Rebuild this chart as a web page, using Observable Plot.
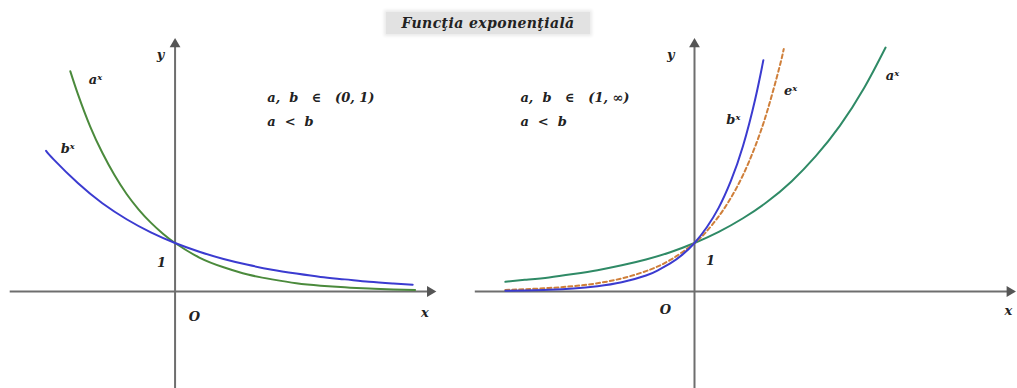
<!DOCTYPE html>
<html>
<head>
<meta charset="utf-8">
<script src="https://cdn.jsdelivr.net/npm/d3@7"></script>
<script src="https://cdn.jsdelivr.net/npm/@observablehq/plot@0.6"></script>
<style>
  html, body { margin: 0; padding: 0; background: #ffffff; }
  #stage { position: relative; width: 1017px; height: 388px; overflow: hidden; }
  .panel { position: absolute; top: 0; }
  #title {
    position: absolute; left: 386px; top: 12px; width: 204px; height: 22px;
    background: #e2e2e2; box-shadow: 0 0 3px 2px #ebebeb;
    font: italic bold 14px "DejaVu Serif", serif; letter-spacing: 0.4px; color: #222;
    display: flex; align-items: center; justify-content: center;
  }
</style>
</head>
<body>
<div id="stage">
  <div id="left" class="panel" style="left:0px"></div>
  <div id="right" class="panel" style="left:460px"></div>
  <div id="title">Funcţia exponenţială</div>
</div>
<script>
// Left panel: bases between 0 and 1 (a < b)
const leftAX = [-2.16, -2, -1.75, -1.5, -1.25, -1, -0.75, -0.5, -0.25, 0, 0.5, 1, 1.5, 2, 2.5, 3, 3.5, 4, 4.5, 4.95];
const leftAY = [4.54, 4.06, 3.40, 2.86, 2.40, 2.01, 1.69, 1.42, 1.19, 1, 0.70, 0.50, 0.35, 0.25, 0.17, 0.12, 0.086, 0.061, 0.043, 0.031];
const leftBX = [-2.66, -2.5, -2, -1.5, -1, -0.5, 0, 0.5, 1, 1.5, 2, 2.5, 3, 3.5, 4, 4.5, 4.9];
const leftBY = [2.90, 2.72, 2.23, 1.82, 1.49, 1.22, 1, 0.82, 0.67, 0.55, 0.45, 0.37, 0.30, 0.25, 0.20, 0.165, 0.14];

// Right panel: bases greater than 1 (a < b), with e^x for comparison
const rightAX = [-3.9, -3.5, -3, -2.5, -2, -1.5, -1, -0.5, 0, 0.5, 1, 1.5, 2, 2.5, 3, 3.5, 3.94];
const rightAY = [0.20, 0.24, 0.29, 0.36, 0.44, 0.54, 0.66, 0.81, 1, 1.23, 1.51, 1.85, 2.27, 2.79, 3.42, 4.20, 5.03];
const rightBX = [-3.9, -3.5, -3, -2.5, -2, -1.5, -1, -0.75, -0.5, -0.25, 0, 0.25, 0.5, 0.75, 1, 1.25, 1.42];
const rightBY = [0.014, 0.021, 0.037, 0.064, 0.11, 0.19, 0.33, 0.44, 0.58, 0.76, 1, 1.32, 1.73, 2.28, 3.00, 3.96, 4.77];
const rightEX = [-3.9, -3.5, -3, -2.5, -2, -1.5, -1, -0.5, 0, 0.25, 0.5, 0.75, 1, 1.25, 1.5, 1.75, 1.84];
const rightEY = [0.033, 0.047, 0.072, 0.11, 0.17, 0.27, 0.42, 0.65, 1, 1.24, 1.55, 1.93, 2.40, 2.99, 3.72, 4.62, 5.00];

// Text labels
const leftConditions = ["a,  b   ∈   (0, 1)", "a  <  b"];
const rightConditions = ["a,  b   ∈   (1, ∞)", "a  <  b"];
const curveLabels = { a: "aˣ", b: "bˣ", e: "eˣ" };

const pts = (xs, ys) => xs.map((x, i) => ({x, y: ys[i]}));

const FONT = "DejaVu Serif, serif";
const AXIS = "#6e6e6e";
const GREEN_L = "#4b8a3c";
const GREEN_R = "#2f8a66";
const BLUE = "#3b3bd0";
const ORANGE = "#cf7f3a";
const textOpts = {fontFamily: FONT, fontStyle: "italic", fontWeight: "bold", fontSize: 13, fill: "#222"};

function axesMarks(xMin, xMax, yMin, yMax) {
  return [
    Plot.ruleY([0], {x1: xMin, x2: xMax, stroke: AXIS, strokeWidth: 2}),
    Plot.ruleX([0], {y1: yMin, y2: yMax, stroke: AXIS, strokeWidth: 2}),
    Plot.dot([{x: xMax, y: 0}], {x: "x", y: "y", symbol: "triangle", r: 4, fill: "#555", stroke: "none", rotate: 90}),
    Plot.dot([{x: 0, y: yMax}], {x: "x", y: "y", symbol: "triangle", r: 4, fill: "#555", stroke: "none"})
  ];
}

// Left: 0 < a < b < 1
const left = Plot.plot({
  width: 450, height: 388, margin: 0,
  x: {domain: [-3.6, 5.68], axis: null},
  y: {domain: [-2, 6], axis: null},
  marks: [
    ...axesMarks(-3.4, 5.26, -2, 5.1),
    Plot.line(pts(leftAX, leftAY), {x: "x", y: "y", stroke: GREEN_L, strokeWidth: 2, curve: "natural"}),
    Plot.line(pts(leftBX, leftBY), {x: "x", y: "y", stroke: BLUE, strokeWidth: 2, curve: "natural"}),
    Plot.text([curveLabels.a], {x: leftAX[0] + 0.38, y: leftAY[0] - 0.17, text: d => d, textAnchor: "start", ...textOpts}),
    Plot.text([curveLabels.b], {x: leftBX[0] + 0.3, y: leftBY[0] + 0.05, text: d => d, textAnchor: "start", ...textOpts}),
    Plot.text(leftConditions, {x: 1.9, y: (d, i) => 4.0 - i * 0.5, text: d => d, textAnchor: "start", ...textOpts}),
    Plot.text(["y"], {x: -0.3, y: 4.87, text: d => d, ...textOpts}),
    Plot.text(["1"], {x: -0.28, y: 0.6, text: d => d, ...textOpts}),
    Plot.text(["O"], {x: 0.4, y: -0.52, text: d => d, ...textOpts}),
    Plot.text(["x"], {x: 5.15, y: -0.43, text: d => d, ...textOpts})
  ]
});

// Right: 1 < a < b, with e^x dashed
const right = Plot.plot({
  width: 557, height: 388, margin: 0,
  x: {domain: [-4.825, 6.66], axis: null},
  y: {domain: [-2, 6], axis: null},
  marks: [
    ...axesMarks(-4.52, 6.5, -2, 5.1),
    Plot.line(pts(rightAX, rightAY), {x: "x", y: "y", stroke: GREEN_R, strokeWidth: 2, curve: "natural"}),
    Plot.line(pts(rightEX, rightEY), {x: "x", y: "y", stroke: ORANGE, strokeWidth: 2, strokeDasharray: "4,3", curve: "natural"}),
    Plot.line(pts(rightBX, rightBY), {x: "x", y: "y", stroke: BLUE, strokeWidth: 2, curve: "natural"}),
    Plot.text([curveLabels.b], {x: 0.8, y: 3.53, text: d => d, ...textOpts}),
    Plot.text([curveLabels.e], {x: 1.98, y: 4.14, text: d => d, ...textOpts}),
    Plot.text([curveLabels.a], {x: 4.08, y: 4.45, text: d => d, ...textOpts}),
    Plot.text(rightConditions, {x: -3.59, y: (d, i) => 4.0 - i * 0.5, text: d => d, textAnchor: "start", ...textOpts}),
    Plot.text(["y"], {x: -0.49, y: 4.87, text: d => d, ...textOpts}),
    Plot.text(["1"], {x: 0.33, y: 0.64, text: d => d, ...textOpts}),
    Plot.text(["O"], {x: -0.6, y: -0.37, text: d => d, ...textOpts}),
    Plot.text(["x"], {x: 6.47, y: -0.39, text: d => d, ...textOpts})
  ]
});

document.getElementById("left").appendChild(left);
document.getElementById("right").appendChild(right);
</script>
</body>
</html>
